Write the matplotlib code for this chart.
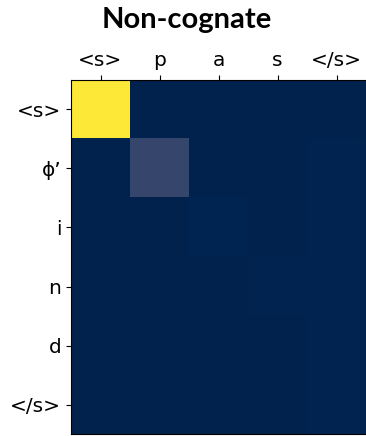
import numpy as np
import matplotlib
matplotlib.use('Agg')
import matplotlib.pyplot as plt

src = ['<s>', 'p', 'a', 's', '</s>']
tgt = ['<s>', 'ϕ\u2019', 'i', 'n', 'd', '</s>']

# attention weights, rows = target, cols = source
attn = np.array([
    [1.00, 0.00, 0.00, 0.00, 0.00],
    [0.00, 0.20, 0.00, 0.00, 0.005],
    [0.00, 0.00, 0.012, 0.00, 0.005],
    [0.00, 0.00, 0.00, 0.008, 0.005],
    [0.00, 0.00, 0.00, 0.00, 0.005],
    [0.00, 0.00, 0.00, 0.00, 0.005],
])

fig = plt.figure(figsize=(3.66, 4.36), dpi=100)
ax = fig.add_axes([71/366, 2/436, 295/366, 354/436])
ax.imshow(attn, cmap='cividis', vmin=0, vmax=1, aspect='auto')

ax.set_xticks(range(len(src)))
ax.set_xticklabels(src, fontsize=14.5)
ax.set_yticks(range(len(tgt)))
ax.set_yticklabels(tgt, fontsize=14.5)
ax.xaxis.tick_top()
fig.text(0.51, 0.955, 'Non-cognate', fontsize=21, fontweight='bold',
         family='Lato', ha='center', va='center')

fig.savefig('out.png', dpi=100)
